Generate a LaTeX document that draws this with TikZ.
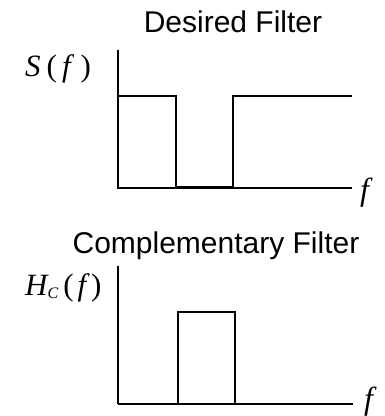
\documentclass[tikz,border=0pt]{standalone}
\usepackage{fontspec}
\setsansfont{Liberation Sans}
\newfontfamily\lblfont{Liberation Serif}
\newcommand\slant[1]{{\itshape #1}}
\begin{document}
\begin{tikzpicture}[x=1pt,y=-1pt,
  axis/.style={line width=1.5pt},
  thick axis/.style={line width=2.6pt},
  curve/.style={line width=1.4pt},
  title/.style={font=\sffamily\fontsize{30}{34}\selectfont, inner sep=0pt, anchor=base},
  lbl/.style={font=\lblfont\fontsize{31}{34}\selectfont, inner sep=0pt, anchor=base west},
  flbl/.style={font=\lblfont\itshape\fontsize{32}{35}\selectfont, inner sep=0pt, anchor=base west}]
\useasboundingbox (0,0) rectangle (385,416);
% upper plot: desired filter
\node[title] (t1) at (233,32) {Desired Filter};
\node[lbl] (s) at (25,76) {\slant{S}\hspace{6pt}(\hspace{5pt}\slant{f}\hspace{10pt})};
\coordinate (o1) at (118,188);
\coordinate (y1) at (118,50);
\coordinate (x1) at (352,188);
\node[flbl] (f1) at (360,200) {f};
\draw[axis] (y1) -- (o1) -- (x1);
\draw[curve] (118,96) -- (176,96) -- (176,187) -- (233,187) -- (233,96) -- (352,96);
\draw[thick axis] (176,187.5) -- (233,187.5);
% lower plot: complementary filter
\node[title] (t2) at (216,253) {Complementary Filter};
\node[lbl] (h) at (25,295) {\slant{H}\raisebox{-3pt}{\fontsize{16}{17}\selectfont\slant{C}}\hspace{5pt}(\hspace{4pt}\slant{f}\hspace{5pt})};
\coordinate (o2) at (118,404);
\coordinate (y2) at (118,266);
\coordinate (x2) at (353,404);
\node[flbl] (f2) at (364,409) {f};
\draw[axis] (y2) -- (o2);
\draw[thick axis] (o2) -- (x2);
\draw[curve] (178,404) -- (178,312) -- (235,312) -- (235,404);
\end{tikzpicture}
\end{document}
